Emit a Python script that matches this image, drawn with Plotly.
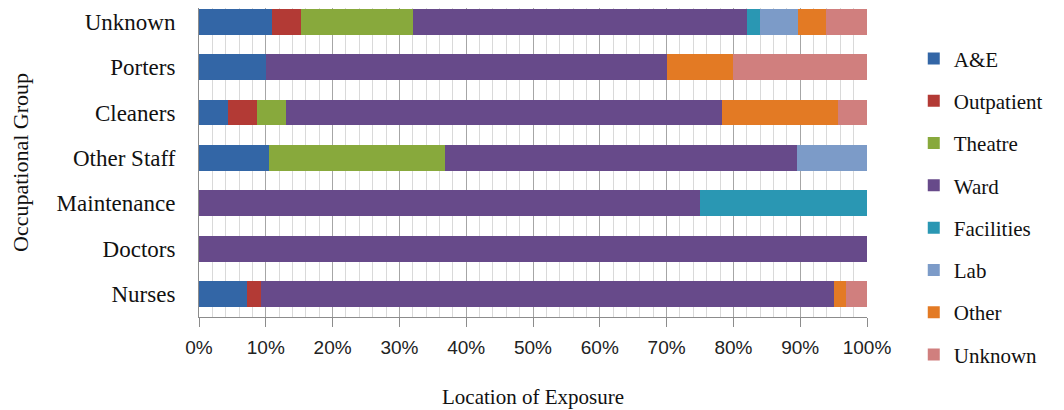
import plotly.graph_objects as go

groups = ["Nurses", "Doctors", "Maintenance", "Other Staff", "Cleaners", "Porters", "Unknown"]
locations = ["A&E", "Outpatient", "Theatre", "Ward", "Facilities", "Lab", "Other", "Unknown"]

# percentages per occupational group (same order as groups)
ae         = [7.2, 0, 0, 10.5, 4.35, 10, 11.0]
outpatient = [2.1, 0, 0, 0, 4.35, 0, 4.3]
theatre    = [0, 0, 0, 26.3, 4.35, 0, 16.7]
ward       = [85.7, 100, 75, 52.7, 65.2, 60, 50.0]
facilities = [0, 0, 25, 0, 0, 0, 2.0]
lab        = [0, 0, 0, 10.5, 0, 0, 5.6]
other      = [1.9, 0, 0, 0, 17.4, 10, 4.2]
unknown    = [3.1, 0, 0, 0, 4.35, 20, 6.2]

series = [ae, outpatient, theatre, ward, facilities, lab, other, unknown]
colors = ["#3366A6", "#B33A35", "#88A93C", "#674A8A", "#2A97B3", "#7C9BC8", "#E37A24", "#D07F7E"]

x_ticks = list(range(0, 101, 10))

fig = go.Figure()
for name, vals, col in zip(locations, series, colors):
    fig.add_trace(go.Bar(
        y=groups, x=vals, name=name, orientation="h",
        marker=dict(color=col, line=dict(width=0)),
        width=0.57, legendgroup=name,
    ))

serif = "Liberation Serif, Times New Roman, serif"
fig.update_layout(
    barmode="stack",
    width=1056, height=402,
    margin=dict(l=191, r=197, t=0, b=93, autoexpand=False),
    plot_bgcolor="white", paper_bgcolor="white",
    font=dict(family=serif, size=22, color="#111111"),
    legend=dict(
        x=1.07, y=0.902, xanchor="left", yanchor="top",
        traceorder="grouped", tracegroupgap=12,
        font=dict(family=serif, size=21, color="#111111"),
        itemwidth=30, maxheight=400,
    ),
    xaxis=dict(
        range=[0, 100], tickvals=x_ticks, ticktext=[f"{v}%" for v in x_ticks],
        showgrid=True, gridcolor="#a6a6a6", gridwidth=1,
        minor=dict(dtick=2, showgrid=True, gridcolor="#d9d9d9", gridwidth=1),
        ticks="outside", ticklen=9, tickcolor="#8c8c8c",
        showline=True, linecolor="#8c8c8c", linewidth=1,
        ticklabelstandoff=4,
        tickfont=dict(family="Liberation Sans, Arial, sans-serif", size=19, color="#222222"),
        title=dict(text="Location of Exposure", font=dict(family=serif, size=21), standoff=32),
        zeroline=False, automargin=False,
    ),
    yaxis=dict(
        range=[-0.5, 6.3],
        showgrid=False, showline=True, linecolor="#8c8c8c", linewidth=1,
        ticks="", ticklabelstandoff=18,
        tickfont=dict(family=serif, size=23, color="#111111"),
        title=dict(text="Occupational Group", font=dict(family=serif, size=22), standoff=22),
        automargin=False,
    ),
)

fig.write_html("out.html")
